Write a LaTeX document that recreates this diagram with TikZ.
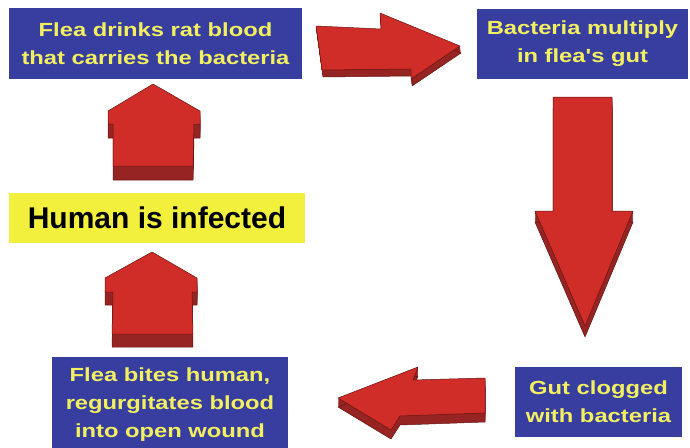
\documentclass[tikz,border=0pt]{standalone}
\usepackage{fontspec}
\setmainfont{Liberation Sans}
\newfontfamily\boxfont{Liberation Sans}[FakeStretch=1.25]
\definecolor{boxblue}{RGB}{56,62,160}
\definecolor{boxtext}{RGB}{242,240,96}
\definecolor{hlyellow}{RGB}{242,240,60}
\definecolor{arrowred}{RGB}{208,44,40}
\definecolor{arrowdark}{RGB}{150,36,34}
\definecolor{arrowedge}{RGB}{100,22,20}
\newcommand\blockarr[3]{%
  \foreach \t in {0.1,0.2,...,1.01} {\fill[arrowdark] [shift={(\t*#1,\t*#2)}] #3 -- cycle;}
  \draw[arrowedge,line width=0.5pt,line join=round] [shift={(#1,#2)}] #3 -- cycle;
  \draw[arrowface] #3 -- cycle;}
\begin{document}
\begin{tikzpicture}[x=1pt,y=-1pt,
  bluebox/.style={rectangle,fill=boxblue,text=boxtext,inner sep=0pt,align=center,
    font=\boxfont\bfseries\fontsize{19}{28}\selectfont},
  yellowbox/.style={rectangle,fill=hlyellow,text=black,inner sep=0pt,
    font=\bfseries\fontsize{30}{34}\selectfont},
  arrowface/.style={fill=arrowred,draw=arrowedge,line width=0.5pt,line join=round}]
\useasboundingbox (0,0) rectangle (690,447);
\fill[white] (0,0) rectangle (690,447);

\node[bluebox,minimum width=293pt,minimum height=71pt] (drink) at (155.5,43.5)
  {Flea drinks rat blood\\that carries the bacteria};
\node[bluebox,minimum width=211pt,minimum height=70pt] (multiply) at (582.5,43.5)
  {Bacteria multiply\\in flea's gut};
\node[bluebox,minimum width=167pt,minimum height=70pt] (clog) at (598.5,402)
  {Gut clogged\\with bacteria};
\node[bluebox,minimum width=236pt,minimum height=95pt] (bite) at (170,404.5)
  {Flea bites human,\\regurgitates blood\\into open wound};
\node[yellowbox,minimum width=296pt,minimum height=50pt] (human) at (157,218)
  {Human is infected};

% right arrow (drink -> multiply)
\blockarr{1}{7}{(316,26) -- (381,29) -- (380,13) -- (460,46) -- (411,79) -- (411,69) -- (322,70)}
% down arrow (multiply -> clog)
\blockarr{0}{11}{(553,97) -- (612,97) -- (612,211) -- (633,211) -- (585,326) -- (535,211) -- (553,211)}
% left arrow (clog -> bite)
\blockarr{0}{9}{(485,378) -- (485,413) -- (400,416) -- (391,430) -- (338,398) -- (418,367) -- (413,380)}
% up arrow (bite -> human)
\blockarr{0}{13}{(112,334) -- (113,292) -- (105,292) -- (105,278) -- (152,252) -- (197,278) -- (197,292) -- (192,292) -- (193,334)}
% up arrow (human -> drink)
\blockarr{0}{14}{(113,166) -- (113,124) -- (108,124) -- (108,111) -- (153,84) -- (200,111) -- (200,124) -- (194,124) -- (193,166)}
\end{tikzpicture}
\end{document}
